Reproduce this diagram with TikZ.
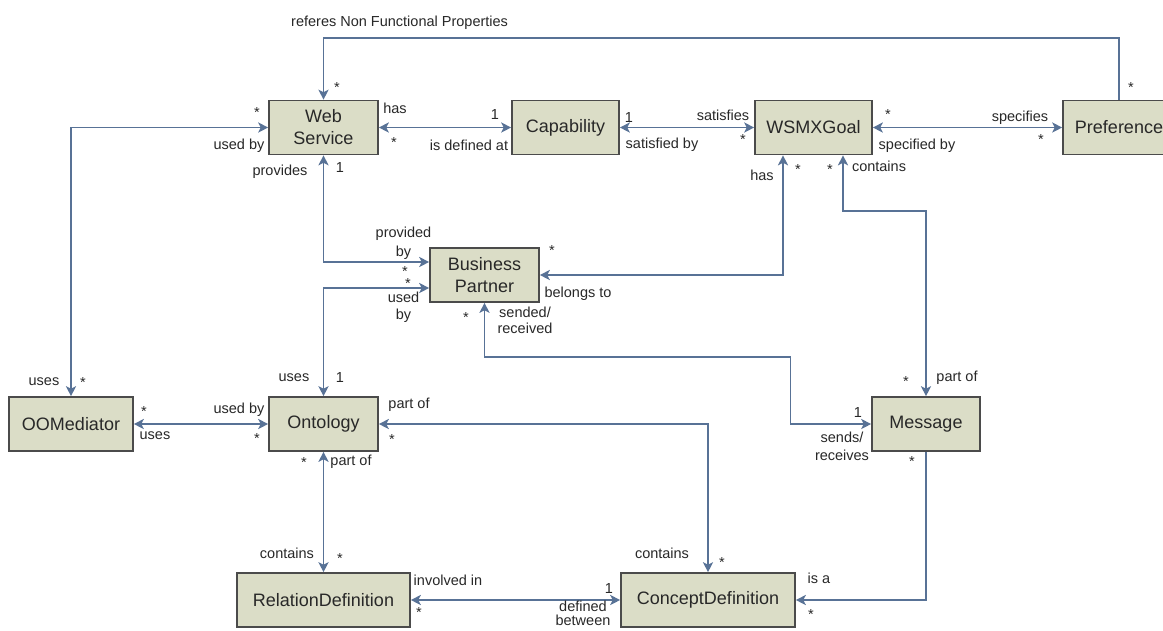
\documentclass[tikz,border=0pt]{standalone}
\usepackage{fontspec}
\setmainfont{Liberation Sans}
\usetikzlibrary{arrows.meta}
\definecolor{lc}{RGB}{88,114,150}
\definecolor{bf}{RGB}{219,221,199}
\definecolor{bd}{RGB}{75,75,75}
\definecolor{tc}{RGB}{40,40,40}
\begin{document}
\begin{tikzpicture}[x=1pt,y=-1pt,
  box/.style={draw=bd, line width=1.6pt, fill=bf, minimum height=54pt, inner sep=0pt,
    font=\fontsize{18}{22}\selectfont, align=center, text=tc},
  lbl/.style={inner sep=0pt, font=\fontsize{14.5}{17}\selectfont, text=tc, align=center},
  con/.style={draw=lc, line width=1.8pt},
  tip/.tip={Stealth[length=10pt,width=10pt,inset=2.5pt]},
  bi/.style={con, tip-tip},
  uni/.style={con, -tip}]
\useasboundingbox[fill=white] (0,0) rectangle (1163,630);

% boxes
\node[box, minimum width=109pt] (ws) at (323.5,127.5) {Web\\Service};
\node[box, minimum width=107pt] (cap) at (565.5,127.5) {Capability};
\node[box, minimum width=117pt] (goal) at (813.5,127.5) {WSMXGoal};
\node[box, minimum width=112pt] (pref) at (1119,127.5) {Preference};
\node[box, minimum width=109pt] (bp) at (484.5,275) {Business\\Partner};
\node[box, minimum width=124pt] (oom) at (71,424) {OOMediator};
\node[box, minimum width=109pt] (ont) at (323.5,424) {Ontology};
\node[box, minimum width=108pt] (msg) at (926,424) {Message};
\node[box, minimum width=173pt] (rd) at (323.5,600) {RelationDefinition};
\node[box, minimum width=174pt] (cd) at (708,600) {ConceptDefinition};

% connectors
\coordinate (top) at (0,38);
\draw[uni] (pref.north) -- (pref.north |- top) -| (ws.north);
\draw[bi] (ws) -- (cap);
\draw[bi] (cap) -- (goal);
\draw[bi] (goal) -- (pref);
\draw[bi] (ws.west) -| (oom.north);
\draw[bi] (ws.south) |- ([yshift=13pt]bp.west);
\draw[bi] ([yshift=-13pt]bp.west) -| (ont.north);
\draw[bi] (oom) -- (ont);
\draw[bi] ([xshift=-30.5pt]goal.south) |- (bp.east);
\draw[bi] ([xshift=29.5pt]goal.south) -- ++(0,56) -| (msg.north);
\draw[bi] (bp.south) -- ++(0,54) -- ++(306,0) |- (msg.west);
\draw[bi] (ont.east) -| (cd.north);
\draw[bi] (ont.south) -- (rd.north);
\draw[bi] (rd) -- (cd);
\draw[uni] (msg.south) |- (cd.east);

% labels: referes
\node[lbl, anchor=west] (l1) at (291,23) {referes Non Functional Properties};
\node[lbl] (l2) at (337,88) {*};
\node[lbl] (l3) at (1131,88) {*};
% ws - cap
\node[lbl] (l4) at (395,108) {has};
\node[lbl] (l5) at (394,143) {*};
\node[lbl] (l6) at (495,115) {1};
\node[lbl] (l7) at (469,145) {is defined at};
% cap - goal
\node[lbl] (l8) at (629,118) {1};
\node[lbl] (l9) at (662,145) {satisfied by};
\node[lbl] (l10) at (723,115) {satisfies};
\node[lbl] (l11) at (743,140) {*};
% goal - pref
\node[lbl] (l12) at (888,115) {*};
\node[lbl] (l13) at (917,146) {specified by};
\node[lbl] (l14) at (1020,118) {specifies};
\node[lbl] (l15) at (1041,140) {*};
% ws - oom
\node[lbl] (l16) at (257,113) {*};
\node[lbl] (l17) at (239,146) {used by};
\node[lbl] (l18) at (44,382) {uses};
\node[lbl] (l19) at (83,383) {*};
% ws - bp
\node[lbl] (l20) at (280,172) {provides};
\node[lbl] (l21) at (340,168) {1};
\node[lbl, font=\fontsize{14.5}{19}\selectfont] (l22) at (403.5,243) {provided\\by};
\node[lbl] (l23) at (405,272) {*};
% bp - ont
\node[lbl] (l24) at (408,284) {*};
\node[lbl] (l25) at (403.5,307) {used\\by};
\node[lbl] (l26) at (294,378) {uses};
\node[lbl] (l27) at (340,378) {1};
% oom - ont
\node[lbl] (l28) at (144,412) {*};
\node[lbl] (l29) at (155,436) {uses};
\node[lbl] (l30) at (239,410) {used by};
\node[lbl] (l31) at (257,439) {*};
% goal - bp
\node[lbl] (l32) at (762,175) {has};
\node[lbl] (l33) at (798,170) {*};
\node[lbl] (l34) at (552,251) {*};
\node[lbl] (l35) at (578,294) {belongs to};
% goal - msg
\node[lbl] (l36) at (830,170) {*};
\node[lbl] (l37) at (879,166) {contains};
\node[lbl] (l38) at (906,382) {*};
\node[lbl] (l39) at (957,378) {part of};
% bp - msg
\node[lbl] (l40) at (466,318) {*};
\node[lbl, font=\fontsize{14.5}{16}\selectfont] (l41) at (525,320) {sended/\\received};
\node[lbl] (l42) at (858,413) {1};
\node[lbl, font=\fontsize{14.5}{18}\selectfont] (l43) at (842,446) {sends/\\receives};
% ont - cd
\node[lbl] (l44) at (409,405) {part of};
\node[lbl] (l45) at (392,440) {*};
\node[lbl] (l46) at (662,553) {contains};
\node[lbl] (l47) at (722,563) {*};
% ont - rd
\node[lbl] (l48) at (304,463) {*};
\node[lbl] (l49) at (351,462) {part of};
\node[lbl] (l50) at (287,553) {contains};
\node[lbl] (l51) at (340,559) {*};
% rd - cd
\node[lbl] (l52) at (448,580) {involved in};
\node[lbl] (l53) at (419,613) {*};
\node[lbl] (l54) at (609,589) {1};
\node[lbl, font=\fontsize{14.5}{14}\selectfont, anchor=north] (l55) at (583,601) {defined\\between};
% msg - cd
\node[lbl] (l56) at (912,462) {*};
\node[lbl] (l57) at (819,578) {is a};
\node[lbl] (l58) at (811,615) {*};
\end{tikzpicture}
\end{document}
